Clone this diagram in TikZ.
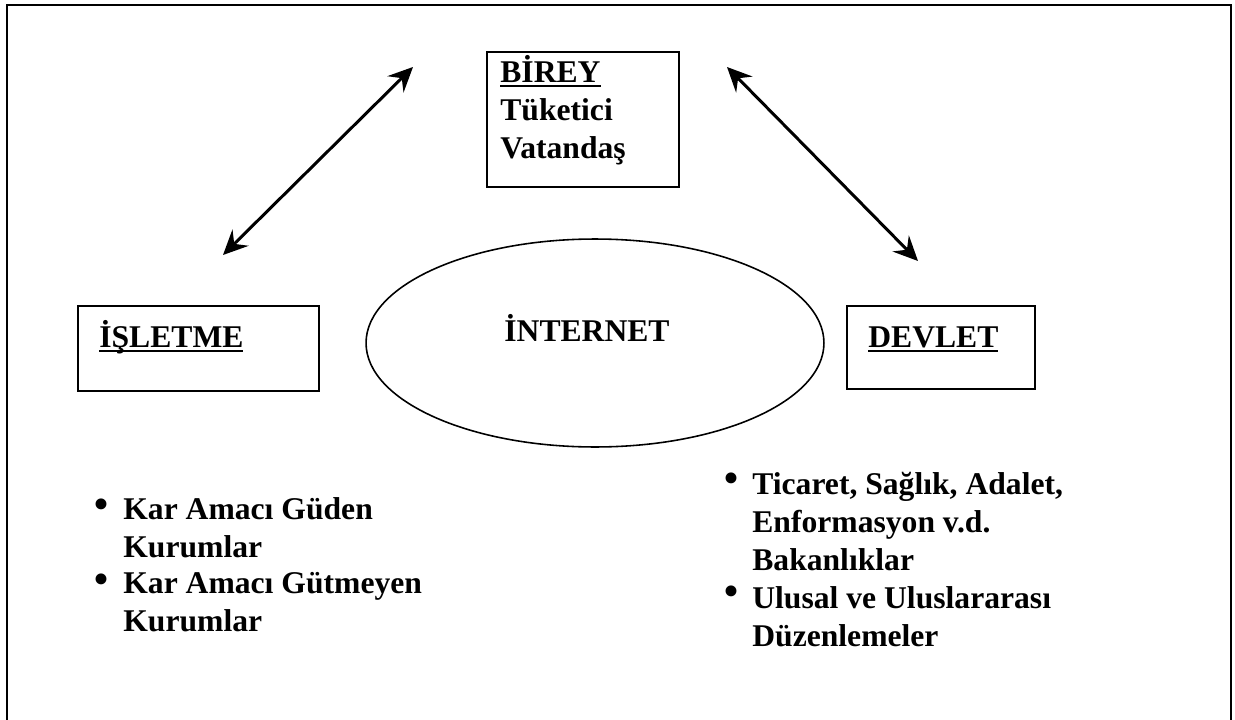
\documentclass[tikz,border=0pt]{standalone}
\usepackage{fontspec}
\setmainfont{Liberation Serif}
\usetikzlibrary{arrows.meta}
\usetikzlibrary{shapes.geometric}
\newcommand\altcizgi[1]{\setbox0\hbox{#1}\rlap{\rule[-3pt]{\wd0}{1.5pt}}\box0}

\tikzset{
  kutu/.style={draw, line width=0.85pt, inner sep=0pt},
  yazi/.style={font=\bfseries\fontsize{18}{21.5}\selectfont, inner sep=0pt},
  imlec/.style={font=\fontsize{26}{26}\selectfont, inner sep=0pt},
  ok/.style={line width=1.7pt, {Stealth[length=14pt,width=13pt,inset=5pt]}-{Stealth[length=14pt,width=13pt,inset=5pt]}}
}

\begin{document}
\begin{tikzpicture}[x=0.02cm, y=-0.02cm]

\useasboundingbox (0,0) rectangle (1235,720);
\draw[line width=1.1pt] (7,720) -- (7,5) -- (1231,5) -- (1231,720);

% kutular
\node[kutu, minimum width=3.84cm, minimum height=2.7cm] (birey) at (583,119.5) {};
\node[kutu, minimum width=4.82cm, minimum height=1.7cm] (isletme) at (198.5,348.5) {};
\node[kutu, minimum width=3.76cm, minimum height=1.66cm] (devlet) at (941,347.5) {};
\node[ellipse, draw, line width=0.9pt, minimum width=9.16cm, minimum height=4.16cm, inner sep=0pt] (internet) at (595,343) {};

% basliklar
\node[yazi, anchor=base west] (bireyYazi) at (500,82) {\altcizgi{BİREY}};
\node[yazi, anchor=base west] (tuketici) at (500,120) {Tüketici};
\node[yazi, anchor=base west] (vatandas) at (500,158) {Vatandaş};
\node[yazi, anchor=base west] (isletmeYazi) at (99,347) {\altcizgi{İŞLETME}};
\node[yazi, anchor=base west] (devletYazi) at (868,347) {\altcizgi{DEVLET}};
\node[yazi, anchor=base] (internetYazi) at (587,341) {İNTERNET};

% oklar
\coordinate (solAlt) at (223,255);
\coordinate (solUst) at (413,67);
\coordinate (sagUst) at (727,67);
\coordinate (sagAlt) at (918,261);
\draw[ok] (solAlt) -- (solUst);
\draw[ok] (sagUst) -- (sagAlt);

% maddeler
\node[imlec] (imlec1) at (101,509) {•};
\node[yazi, anchor=north west, align=left] (karGuden) at (123,497) {Kar Amacı Güden\\Kurumlar};
\node[imlec] (imlec2) at (101,584) {•};
\node[yazi, anchor=north west, align=left] (karGutmeyen) at (123,572) {Kar Amacı Gütmeyen\\Kurumlar};
\node[imlec] (imlec3) at (731,483) {•};
\node[yazi, anchor=north west, align=left] (bakanliklar) at (752,472) {Ticaret, Sağlık, Adalet,\\Enformasyon v.d.\\Bakanlıklar};
\node[imlec] (imlec4) at (731,596) {•};
\node[yazi, anchor=north west, align=left] (duzenlemeler) at (752,586) {Ulusal ve Uluslararası\\Düzenlemeler};

\end{tikzpicture}
\end{document}
